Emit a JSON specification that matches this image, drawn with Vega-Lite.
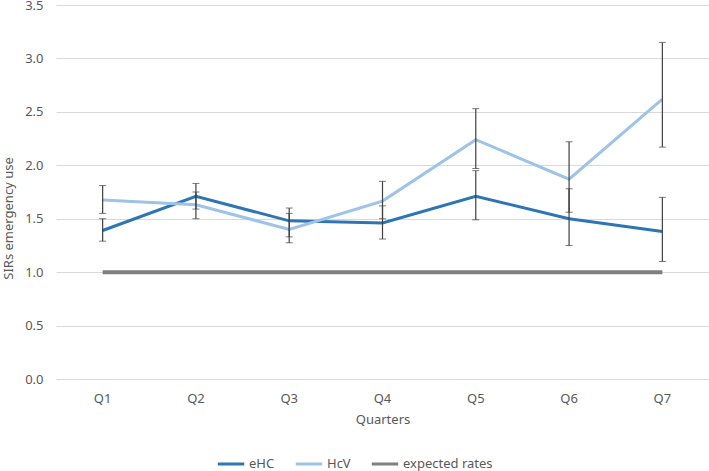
{
  "$schema": "https://vega.github.io/schema/vega-lite/v6.json",
  "width": 653,
  "height": 374,
  "autosize": "none",
  "padding": {"left": 56, "top": 5, "right": 0, "bottom": 92},
  "background": "white",
  "config": {
    "view": {"stroke": null},
    "font": "Noto Sans",
    "axis": {"labelColor": "#595959", "titleColor": "#595959", "labelFont": "Noto Sans", "titleFont": "Noto Sans", "titleFontWeight": "normal", "labelFontSize": 13, "titleFontSize": 13}
  },
  "data": {
    "values": [
      {"q": "Q1", "series": "eHC", "v": 1.39, "lo": 1.29, "hi": 1.50},
      {"q": "Q2", "series": "eHC", "v": 1.71, "lo": 1.59, "hi": 1.83},
      {"q": "Q3", "series": "eHC", "v": 1.48, "lo": 1.33, "hi": 1.60},
      {"q": "Q4", "series": "eHC", "v": 1.46, "lo": 1.31, "hi": 1.62},
      {"q": "Q5", "series": "eHC", "v": 1.71, "lo": 1.49, "hi": 1.95},
      {"q": "Q6", "series": "eHC", "v": 1.50, "lo": 1.25, "hi": 1.78},
      {"q": "Q7", "series": "eHC", "v": 1.38, "lo": 1.10, "hi": 1.70},
      {"q": "Q1", "series": "HcV", "v": 1.675, "lo": 1.55, "hi": 1.81},
      {"q": "Q2", "series": "HcV", "v": 1.63, "lo": 1.50, "hi": 1.75},
      {"q": "Q3", "series": "HcV", "v": 1.40, "lo": 1.275, "hi": 1.55},
      {"q": "Q4", "series": "HcV", "v": 1.665, "lo": 1.50, "hi": 1.85},
      {"q": "Q5", "series": "HcV", "v": 2.24, "lo": 1.97, "hi": 2.53},
      {"q": "Q6", "series": "HcV", "v": 1.87, "lo": 1.56, "hi": 2.22},
      {"q": "Q7", "series": "HcV", "v": 2.62, "lo": 2.17, "hi": 3.15},
      {"q": "Q1", "series": "expected rates", "v": 1.0},
      {"q": "Q2", "series": "expected rates", "v": 1.0},
      {"q": "Q3", "series": "expected rates", "v": 1.0},
      {"q": "Q4", "series": "expected rates", "v": 1.0},
      {"q": "Q5", "series": "expected rates", "v": 1.0},
      {"q": "Q6", "series": "expected rates", "v": 1.0},
      {"q": "Q7", "series": "expected rates", "v": 1.0}
    ]
  },
  "encoding": {
    "x": {
      "field": "q", "type": "nominal", "title": "Quarters",
      "scale": {"paddingInner": 0, "paddingOuter": 0},
      "axis": {"labelAngle": 0, "ticks": false, "domain": false, "grid": false, "labelPadding": 13, "titlePadding": 8}
    },
    "y": {
      "field": "v", "type": "quantitative", "title": "SIRs emergency use",
      "scale": {"domain": [0, 3.5], "nice": false},
      "axis": {"values": [0, 0.5, 1, 1.5, 2, 2.5, 3, 3.5], "format": ".1f", "ticks": false, "domain": false, "grid": true, "gridColor": "#d9d9d9", "gridWidth": 1, "labelPadding": 13, "titleY": 213, "titleX": -41}
    }
  },
  "layer": [
    {
      "transform": [{"filter": "datum.series === 'eHC'"}],
      "mark": {"type": "line", "strokeWidth": 3},
      "encoding": {
        "color": {"field": "series", "type": "nominal",
          "scale": {"domain": ["eHC", "HcV", "expected rates"], "range": ["#2e75b6", "#9dc3e6", "#7f7f7f"]},
          "legend": {"orient": "none", "legendX": 160, "legendY": 444, "direction": "horizontal", "title": null, "symbolType": "stroke", "symbolSize": 700, "symbolStrokeWidth": 3, "labelFontSize": 13, "labelColor": "#595959", "labelFont": "Noto Sans", "columnPadding": 14, "labelOffset": 3, "padding": 0}
        }
      }
    },
    {
      "transform": [{"filter": "datum.series === 'HcV'"}],
      "mark": {"type": "line", "strokeWidth": 3},
      "encoding": {"color": {"field": "series", "type": "nominal"}}
    },
    {
      "transform": [{"filter": "datum.series === 'expected rates'"}],
      "mark": {"type": "line", "strokeWidth": 4},
      "encoding": {"color": {"field": "series", "type": "nominal"}}
    },
    {
      "transform": [{"filter": "datum.series !== 'expected rates'"}],
      "mark": {"type": "errorbar", "ticks": {"size": 7, "color": "#404040", "strokeWidth": 1.2}, "rule": {"color": "#404040", "strokeWidth": 1.2}},
      "encoding": {
        "y": {"field": "lo", "type": "quantitative"},
        "y2": {"field": "hi"}
      }
    }
  ]
}
